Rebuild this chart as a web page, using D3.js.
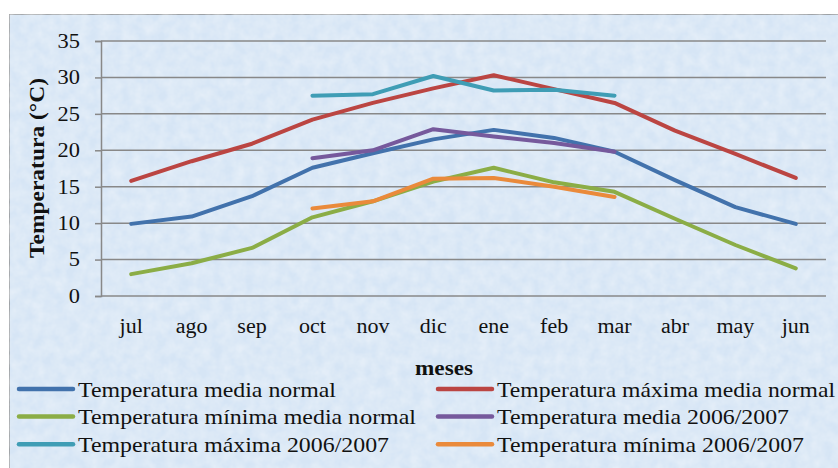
<!DOCTYPE html>
<html>
<head>
<meta charset="utf-8">
<script src="https://cdn.jsdelivr.net/npm/d3@7"></script>
<style>
  body { margin: 0; background: #fff; }
  svg, svg text { font-family: "Liberation Serif", "Times New Roman", serif; }
  svg { display: block; }
</style>
</head>
<body>
<svg id="chart" width="838" height="468"></svg>
<script>
var months = ["jul","ago","sep","oct","nov","dic","ene","feb","mar","abr","may","jun"];
var yTicks = [0, 5, 10, 15, 20, 25, 30, 35];

var mediaNormal    = [9.9, 10.9, 13.7, 17.6, 19.6, 21.5, 22.8, 21.7, 19.8, 15.9, 12.2, 9.9];
var maximaNormal   = [15.8, 18.5, 20.9, 24.2, 26.5, 28.5, 30.3, 28.4, 26.5, 22.7, 19.5, 16.2];
var minimaNormal   = [3.0, 4.5, 6.6, 10.8, 13.0, 15.7, 17.6, 15.6, 14.3, 10.6, 7.0, 3.8];
var media0607      = [null, null, null, 18.9, 20.0, 22.9, 21.9, 21.0, 19.8, null, null, null];
var maxima0607     = [null, null, null, 27.5, 27.7, 30.2, 28.2, 28.3, 27.5, null, null, null];
var minima0607     = [null, null, null, 12.0, 13.0, 16.1, 16.2, 15.0, 13.6, null, null, null];

var seriesNames = [
  "Temperatura media normal", "Temperatura máxima media normal",
  "Temperatura mínima media normal", "Temperatura media 2006/2007",
  "Temperatura máxima 2006/2007", "Temperatura mínima 2006/2007"
];
var seriesValues = [mediaNormal, maximaNormal, minimaNormal, media0607, maxima0607, minima0607];
var colors = ["#4272ac", "#bb4542", "#8bad46", "#76599c", "#3f9db5", "#ea8a3b"];
// widths the legend labels take in the picture (it is a little stretched sideways)
var legendWidths = [258, 338, 338, 292, 311, 307];

var svg = d3.select("#chart");

function stretch(sel, k) {
  sel.each(function() {
    var w = this.getComputedTextLength();
    d3.select(this).attr("textLength", w * k).attr("lengthAdjust", "spacingAndGlyphs");
  });
}

// textured light-blue background
var defs = svg.append("defs");
var f = defs.append("filter").attr("id", "tex").attr("x", 0).attr("y", 0).attr("width", 1).attr("height", 1);
f.append("feTurbulence").attr("type", "fractalNoise").attr("baseFrequency", 0.09).attr("numOctaves", 3).attr("seed", 4).attr("result", "n");
f.append("feColorMatrix").attr("in", "n").attr("type", "matrix")
  .attr("values", "0 0 0 0 1  0 0 0 0 1  0 0 0 0 1  0 0 0 0.5 -0.12").attr("result", "w");
f.append("feComposite").attr("in", "w").attr("in2", "SourceGraphic").attr("operator", "over");

svg.append("rect").attr("x", 9).attr("y", 14).attr("width", 840).attr("height", 470)
  .attr("fill", "#d6e5f5").attr("stroke", "#8a8a8a").attr("stroke-width", 1.5)
  .attr("filter", "url(#tex)");

var plotL = 101, plotR = 826, plotT = 41, plotB = 296;

var x = d3.scaleBand().domain(months).range([plotL, plotR]);
var y = d3.scaleLinear().domain([0, 35]).range([plotB, plotT]);

// gridlines
svg.append("g").selectAll("line").data(yTicks).join("line")
  .attr("x1", plotL).attr("x2", plotR)
  .attr("y1", d => y(d)).attr("y2", d => y(d))
  .attr("stroke", "#888").attr("stroke-width", 1.5);

// y axis
var yAxis = svg.append("g").attr("transform", "translate(" + plotL + ",0)")
  .call(d3.axisLeft(y).tickValues(yTicks).tickSize(6).tickPadding(15));
yAxis.attr("font-family", null);
yAxis.select(".domain").attr("stroke", "#888").attr("stroke-width", 1.5);
yAxis.selectAll(".tick line").attr("stroke", "#888").attr("stroke-width", 1.5);
yAxis.selectAll("text").attr("font-size", 20).attr("fill", "#111");
stretch(yAxis.selectAll("text"), 1.12);

// x labels
var xl = svg.append("g").selectAll("text").data(months).join("text")
  .attr("x", d => x(d) + x.bandwidth() / 2).attr("y", 333)
  .attr("text-anchor", "middle").attr("font-size", 20).attr("fill", "#111")
  .text(d => d);
stretch(xl, 1.1);

// axis titles
svg.append("text").attr("transform", "translate(44,168) rotate(-90)")
  .attr("text-anchor", "middle").attr("font-size", 21).attr("font-weight", "bold")
  .attr("fill", "#111").text("Temperatura (°C)")
  .attr("textLength", 180).attr("lengthAdjust", "spacingAndGlyphs");
svg.append("text").attr("x", 444).attr("y", 375).attr("text-anchor", "middle")
  .attr("font-size", 20).attr("font-weight", "bold").attr("fill", "#111").text("meses")
  .attr("textLength", 58).attr("lengthAdjust", "spacingAndGlyphs");

// lines
var line = d3.line()
  .defined(d => d != null)
  .x((d, i) => x(months[i]) + x.bandwidth() / 2)
  .y(d => y(d));

svg.append("g").selectAll("path").data(seriesValues).join("path")
  .attr("d", d => line(d))
  .attr("fill", "none")
  .attr("stroke", (d, i) => colors[i])
  .attr("stroke-width", 4)
  .attr("stroke-linecap", "round")
  .attr("stroke-linejoin", "round");

// legend
var legend = svg.append("g").selectAll("g").data(seriesNames).join("g")
  .attr("transform", (d, i) => "translate(" + (i % 2 ? 438 : 19) + "," + (389 + Math.floor(i / 2) * 27.6) + ")");
legend.append("line").attr("x1", 0).attr("x2", 54).attr("y1", 0).attr("y2", 0)
  .attr("stroke", (d, i) => colors[i]).attr("stroke-width", 4.5).attr("stroke-linecap", "round");
legend.append("text").attr("x", 59).attr("y", 7.5).attr("font-size", 22).attr("fill", "#111")
  .text(d => d)
  .attr("textLength", (d, i) => legendWidths[i]).attr("lengthAdjust", "spacingAndGlyphs");
</script>
</body>
</html>
